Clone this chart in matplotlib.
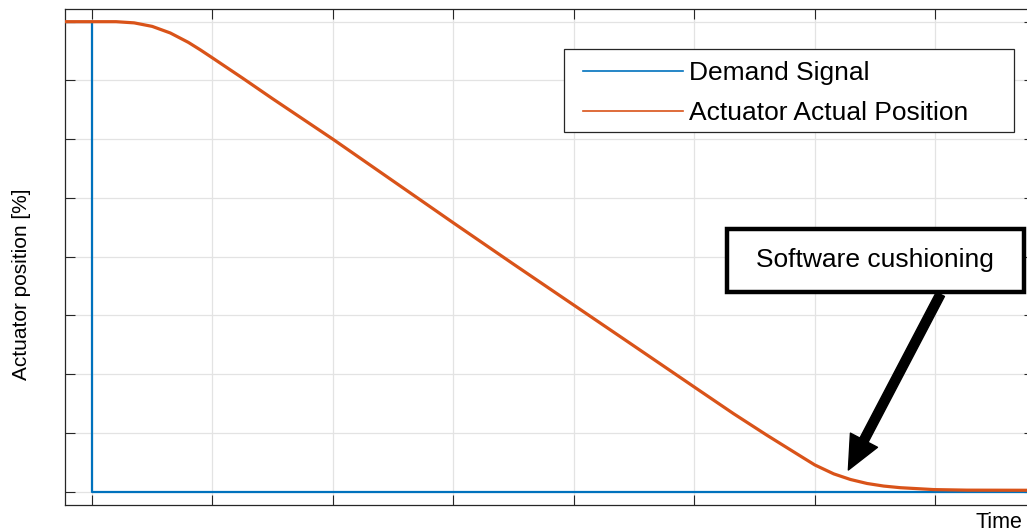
import matplotlib
matplotlib.use("Agg")
import matplotlib.pyplot as plt
from matplotlib.lines import Line2D
from matplotlib.patches import Rectangle

plt.rcParams['font.family'] = ['Liberation Sans', 'DejaVu Sans']

# ---- data (time in grid units, position in %) ----
demand_t = [-0.23, 0.0, 0.0, 7.82]
demand_y = [100.0, 100.0, 0.0, 0.0]

actual_t = [-0.23, 0.0, 0.2, 0.35, 0.5, 0.65, 0.8, 0.9, 1.0, 1.25, 1.5, 1.75,
            2.0, 2.5, 3.0, 3.5, 4.0, 4.5, 5.05, 5.326, 5.604, 5.88, 6.0, 6.157,
            6.296, 6.434, 6.572, 6.711, 6.988, 7.265, 7.82]
actual_y = [100.0, 100.0, 100.0, 99.75, 99.0, 97.6, 95.6, 94.0, 92.3, 88.0, 83.6, 79.3,
            75.0, 66.1, 57.2, 48.4, 39.7, 31.0, 21.4, 16.6, 12.0, 7.6, 5.7, 3.8,
            2.6, 1.75, 1.2, 0.85, 0.45, 0.33, 0.3]

series_labels = ["Demand Signal", "Actuator Actual Position"]
x_ticks = [0, 1, 2, 3, 4, 5, 6, 7]
y_ticks = [0, 12.5, 25, 37.5, 50, 62.5, 75, 87.5, 100]

blue = "#0072BD"
orange = "#D95319"

W, H = 1027, 531
AX_L, AX_R, AX_T, AX_B = 64.5, 1034, 9, 505

fig = plt.figure(figsize=(W / 100, H / 100), dpi=100)
ax = fig.add_axes([AX_L / W, 1 - AX_B / H, (AX_R - AX_L) / W, (AX_B - AX_T) / H])


def axfrac(px, py):
    return (px - AX_L) / (AX_R - AX_L), (AX_B - py) / (AX_B - AX_T)


ax.plot(demand_t, demand_y, color=blue, lw=1.6, zorder=3)
ax.plot(actual_t, actual_y, color=orange, lw=2.3, zorder=4, solid_joinstyle='round')

ax.set_xlim(-0.228, 7.82)
ax.set_ylim(-2.83, 102.7)
ax.set_xticks(x_ticks)
ax.set_yticks(y_ticks)
ax.set_xticklabels([])
ax.set_yticklabels([])
ax.tick_params(direction='in', length=7.5, width=0.8, color='#262626',
               top=True, right=True, bottom=True, left=True)
ax.grid(True, color='#e3e3e3', lw=0.9)
ax.set_axisbelow(True)
for s in ax.spines.values():
    s.set_color('#262626')
    s.set_linewidth(0.9)

fig.text(22 / W, 1 - 284 / H, "Actuator position [%]", fontsize=15, rotation=90,
         ha='center', va='center')
fig.text(976 / W, 1 - 528 / H, "Time", fontsize=15.5, ha='left', va='baseline')

# legend: frame drawn separately to match the wide box
fx0, fy0 = axfrac(564, 132)
fx1, fy1 = axfrac(1014, 49)
ax.add_patch(Rectangle((fx0, fy0), fx1 - fx0, fy1 - fy0, transform=ax.transAxes,
                       facecolor='white', edgecolor='#262626', lw=0.9, zorder=5))
handles = [Line2D([], [], color=blue, lw=1.2), Line2D([], [], color=orange, lw=1.2)]
lx, ly = axfrac(583 - 4, 57)
leg = ax.legend(handles, series_labels, loc='upper left', bbox_to_anchor=(lx, ly),
                fontsize=19, handlelength=3.8, handletextpad=0.2, borderpad=0.15,
                labelspacing=0.6, frameon=False, borderaxespad=0)
leg.set_zorder(6)

# annotation box and arrow
rect = Rectangle((5.274, 42.49), 7.733 - 5.274, 55.89 - 42.49, facecolor='white',
                 edgecolor='black', lw=3.2, zorder=8)
ax.add_patch(rect)
ax.text(6.503, 49.2, "Software cushioning", fontsize=19, ha='center', va='center', zorder=9)
ax.annotate('', xy=(6.279, 4.62), xytext=(7.043, 42.0),
            arrowprops=dict(arrowstyle='simple,tail_width=0.3,head_width=1.0,head_length=1.1',
                            mutation_scale=22, color='black', shrinkA=0, shrinkB=0),
            zorder=7)

fig.savefig("out.png", dpi=100)
